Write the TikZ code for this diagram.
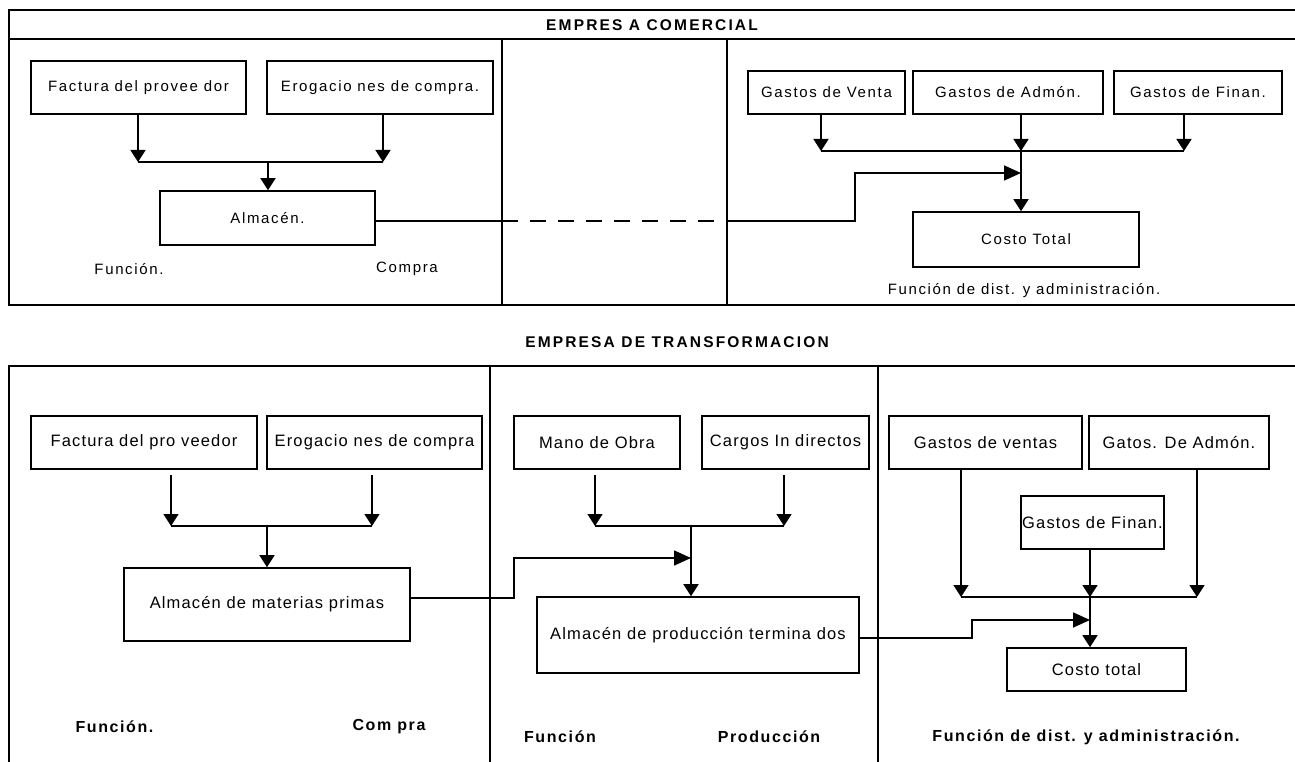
\documentclass[tikz,border=0pt]{standalone}
\usepackage{fontspec}
\setmainfont{Liberation Sans}
\newfontfamily\arribafont[LetterSpace=11]{Liberation Sans}
\newfontfamily\abajofont[LetterSpace=7]{Liberation Sans}
\newfontfamily\negritafont[LetterSpace=10]{Liberation Sans}
\newfontfamily\titulofont[LetterSpace=14]{Liberation Sans}
\usetikzlibrary{arrows.meta}

\begin{document}
\begin{tikzpicture}[x=1pt,y=-1pt]
    \tikzstyle{every node}=[inner sep=0pt]
    \def\gr{1.6pt}
    \tikzstyle{linea}=[line width=\gr]
    \tikzstyle{marco}=[line width=\gr]
    \tikzstyle{flecha}=[linea,-{Triangle[length=12pt,width=15pt]}]
    \tikzstyle{flechaH}=[linea,-{Triangle[length=17pt,width=15pt]}]
    \tikzstyle{cajaA}=[draw,line width=\gr,font=\arribafont\fontsize{15}{17}\selectfont]
    \tikzstyle{cajaB}=[draw,line width=\gr,font=\abajofont\fontsize{16.5}{19}\selectfont]
    \tikzstyle{textoA}=[font=\arribafont\fontsize{15}{17}\selectfont]
    \tikzstyle{textoB}=[font=\negritafont\fontsize{16}{18}\selectfont\bfseries]
    \tikzstyle{titulo}=[font=\titulofont\fontsize{15.5}{18}\selectfont\bfseries]
    \useasboundingbox (0,0) rectangle (1295,762);

    % empresa comercial
    \draw[marco] (1295,10) -- (9,10) -- (9,305) -- (1295,305);
    \draw[marco] (9,39) -- (1295,39);
    \draw[marco] (502,39) -- (502,305);
    \draw[marco] (727,39) -- (727,305);
    \node[titulo] (tit1) at (652,25) {EMPRES A COMERCIAL};

    \node[cajaA,minimum width=215pt,minimum height=53pt] (fac1) at (138.5,87.5) {Factura del provee dor};
    \node[cajaA,minimum width=226pt,minimum height=53pt] (ero1) at (380,87.5) {Erogacio nes de compra.};
    \node[cajaA,minimum width=215pt,minimum height=54pt] (alm1) at (267.5,218) {Almacén.};
    \node[textoA] (fun1) at (129,269) {Función.};
    \node[textoA] (com1) at (407,269) {Compra};

    \coordinate (ja1) at (138,162);
    \coordinate (jb1) at (383,162);
    \coordinate (jm1) at (268,162);
    \draw[flecha] (fac1.south -| ja1) -- (ja1);
    \draw[flecha] (ero1.south -| jb1) -- (jb1);
    \draw[linea] (ja1) -- (jb1);
    \draw[flecha] (jm1) -- (alm1.north -| jm1);

    \node[cajaA,minimum width=157pt,minimum height=43pt] (ven1) at (826.5,92.5) {Gastos de Venta};
    \node[cajaA,minimum width=190pt,minimum height=43pt] (adm1) at (1008,92.5) {Gastos de Admón.};
    \node[cajaA,minimum width=168pt,minimum height=43pt] (fin1) at (1198,92.5) {Gastos de Finan.};
    \node[cajaA,minimum width=226pt,minimum height=55pt] (cos1) at (1026,239.5) {Costo Total};
    \node[textoA] (dis1) at (1024,291) {Función de dist. y administración.};

    \coordinate (jven1) at (821,151);
    \coordinate (jadm1) at (1021,151);
    \coordinate (jfin1) at (1184,151);
    \draw[flecha] (ven1.south -| jven1) -- (jven1);
    \draw[flecha] (adm1.south -| jadm1) -- (jadm1);
    \draw[flecha] (fin1.south -| jfin1) -- (jfin1);
    \draw[linea] (jven1) -- (jfin1);
    \draw[flecha] (jadm1) -- (cos1.north -| jadm1);

    \coordinate (s1) at (502,221);
    \coordinate (s2) at (727,221);
    \coordinate (s3) at (855,173);
    \draw[linea] (alm1.east |- s1) -- (s1);
    \draw[linea,dash pattern=on 16pt off 12pt] (s1) -- (s2);
    \draw[flechaH] (s2) -| (s3) -- (s3 -| jadm1);

    % empresa de transformacion
    \draw[marco] (9,762) -- (9,366) -- (1295,366);
    \draw[marco] (490,366) -- (490,762);
    \draw[marco] (878,366) -- (878,762);
    \node[titulo] (tit2) at (677,342) {EMPRESA DE TRANSFORMACION};

    \node[cajaB,minimum width=226pt,minimum height=53pt] (fac2) at (144,442.5) {Factura del pro veedor};
    \node[cajaB,minimum width=215pt,minimum height=53pt] (ero2) at (374.5,442.5) {Erogacio nes de compra};
    \node[cajaB,minimum width=286pt,minimum height=73pt] (alm2) at (267,604.5) {Almacén de materias primas};
    \node[textoB] (fun2) at (114.5,727) {Función.};
    \node[textoB] (com2) at (389,727) {Com pra};

    \coordinate (ja2) at (171,526);
    \coordinate (jb2) at (372,526);
    \coordinate (jm2) at (267,526);
    \draw[flecha,shorten <=5pt] (fac2.south -| ja2) -- (ja2);
    \draw[flecha,shorten <=5pt] (ero2.south -| jb2) -- (jb2);
    \draw[linea] (ja2) -- (jb2);
    \draw[flecha] (jm2) -- (alm2.north -| jm2);

    \node[cajaB,minimum width=166pt,minimum height=53pt] (mano) at (597,442.5) {Mano de Obra};
    \node[cajaB,minimum width=167pt,minimum height=53pt] (carg) at (785.5,442.5) {Cargos In directos};
    \node[cajaB,minimum width=322pt,minimum height=76pt] (prod) at (698,635) {Almacén de producción termina dos};
    \node[textoB] (fun3) at (560,737) {Función};
    \node[textoB] (pro3) at (769,737) {Producción};

    \coordinate (jmo) at (595,526);
    \coordinate (jca) at (784,526);
    \coordinate (jpr) at (691,526);
    \draw[flecha,shorten <=5pt] (mano.south -| jmo) -- (jmo);
    \draw[flecha,shorten <=5pt] (carg.south -| jca) -- (jca);
    \draw[linea] (jmo) -- (jca);
    \draw[flecha] (jpr) -- (prod.north -| jpr);

    \coordinate (t1) at (514,598);
    \coordinate (t2) at (514,558);
    \draw[flechaH] (alm2.east |- t1) -- (t1) -- (t2) -- (t2 -| jpr);

    \node[cajaB,minimum width=193pt,minimum height=53pt] (ven2) at (985.5,442.5) {Gastos de ventas};
    \node[cajaB,minimum width=180pt,minimum height=53pt] (adm2) at (1179,442.5) {Gatos. De Admón.};
    \node[cajaB,minimum width=143pt,minimum height=53pt] (fin2) at (1092.5,522.5) {Gastos de Finan.};
    \node[cajaB,minimum width=179pt,minimum height=43pt] (cos2) at (1096.5,669.5) {Costo total};
    \node[textoB] (dis2) at (1086,737) {Función de dist. y administración.};

    \coordinate (jve2) at (961,597);
    \coordinate (jad2) at (1197,597);
    \coordinate (jfi2) at (1090,597);
    \draw[flecha] (ven2.south -| jve2) -- (jve2);
    \draw[flecha] (adm2.south -| jad2) -- (jad2);
    \draw[flecha] (fin2.south -| jfi2) -- (jfi2);
    \draw[linea] (jve2) -- (jad2);
    \draw[flecha] (jfi2) -- (cos2.north -| jfi2);

    \coordinate (u1) at (972,638);
    \coordinate (u2) at (972,620);
    \draw[flechaH] (prod.east |- u1) -- (u1) -- (u2) -- (u2 -| jfi2);
\end{tikzpicture}
\end{document}
